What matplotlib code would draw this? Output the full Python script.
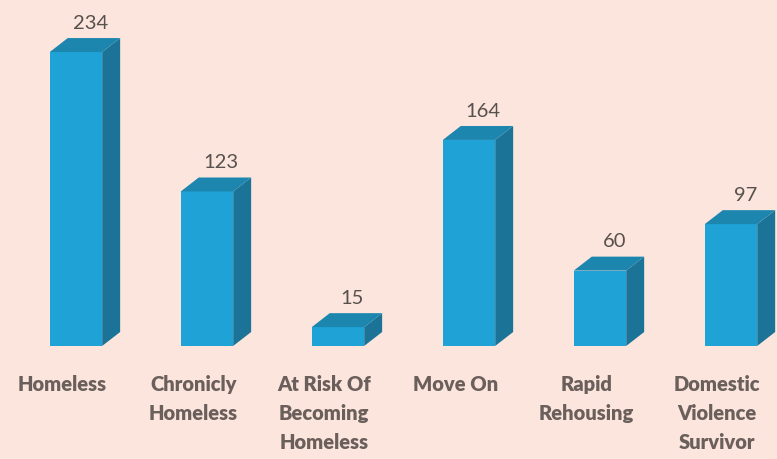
import matplotlib.pyplot as plt
from matplotlib.patches import Polygon

categories = ['Homeless', 'Chronicly\nHomeless', 'At Risk Of\nBecoming\nHomeless',
              'Move On', 'Rapid\nRehousing', 'Domestic\nViolence\nSurvivor']
values = [234, 123, 15, 164, 60, 97]

bg = '#fbe5dd'
front_c = '#1fa2d6'
top_c = '#1d86af'
side_c = '#1b7397'

fig = plt.figure(figsize=(7.77, 4.59), dpi=100, facecolor=bg)
ax = fig.add_axes([0, 0, 1, 1])
ax.set_facecolor(bg)
ax.set_xlim(-0.58, 5.351)
ax.set_ylim(-90, 275.4)
ax.axis('off')

w = 0.40    # front face width (category units)
dx = 0.137  # depth offset in x
dy = 11.1   # depth offset in y (value units)

for i, v in enumerate(values):
    x0, x1 = i - w / 2, i + w / 2
    # front
    ax.add_patch(Polygon([(x0, 0), (x1, 0), (x1, v), (x0, v)],
                         closed=True, fc=front_c, ec='none'))
    # side
    ax.add_patch(Polygon([(x1, 0), (x1 + dx, dy), (x1 + dx, v + dy), (x1, v)],
                         closed=True, fc=side_c, ec='none'))
    # top
    ax.add_patch(Polygon([(x0, v), (x1, v), (x1 + dx, v + dy), (x0 + dx, v + dy)],
                         closed=True, fc=top_c, ec='none'))
    ax.text(i + 0.11, v + dy + 5, str(v), ha='center', va='bottom',
            fontsize=14.5, color='#58504d', family='Lato')
    ax.text(i - 0.105, -23.5, categories[i], ha='center', va='top', fontsize=14.5,
            color='#6b5f5b', family='Lato', fontweight='heavy', linespacing=1.62)

fig.savefig('out.png', dpi=100, facecolor=bg)
